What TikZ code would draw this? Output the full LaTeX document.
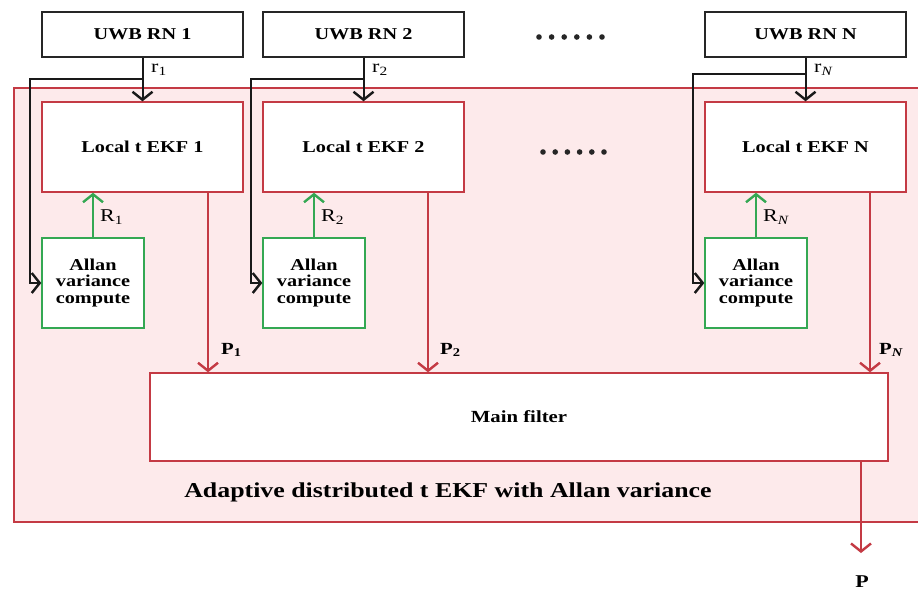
\documentclass[tikz,border=0pt]{standalone}
\usepackage{fontspec}
\setmainfont{Liberation Serif}[FakeStretch=1.22]
\usetikzlibrary{arrows.meta}
\definecolor{redb}{HTML}{C43A44}
\definecolor{pinkf}{HTML}{FDEAEB}
\definecolor{greenb}{HTML}{34A853}
\begin{document}
\begin{tikzpicture}[x=1pt,y=-1pt,
  tip/.style={-{Straight Barb[length=8pt,width=20pt,line width=2.4pt]}},
  uwb/.style={draw=black!85,line width=1.6pt,fill=white,minimum width=201pt,minimum height=45pt,inner sep=0pt,font=\bfseries\fontsize{16.6}{18}\selectfont},
  ekf/.style={draw=redb,line width=1.4pt,fill=white,minimum width=201pt,minimum height=90pt,inner sep=0pt,font=\bfseries\fontsize{16.6}{18}\selectfont},
  allan/.style={draw=greenb,line width=1.4pt,fill=white,minimum width=102pt,minimum height=90pt,inner sep=0pt,align=center,font=\bfseries\fontsize{16.6}{16.8}\selectfont},
  blk/.style={draw=black!90,line width=2pt,tip},
  grn/.style={draw=greenb,line width=2.2pt,tip},
  red/.style={draw=redb,line width=1.8pt,tip},
  lbl/.style={inner sep=0pt,anchor=west,font=\fontsize{18}{20}\selectfont},
  plbl/.style={inner sep=0pt,anchor=west,font=\bfseries\fontsize{17}{19}\selectfont}]
\useasboundingbox (0,0) rectangle (918,592);
\fill[white] (0,0) rectangle (918,592);
% outer container
\draw[redb,line width=1.4pt,fill=pinkf] (14,88) rectangle (935,522);
\node[inner sep=0pt,font=\bfseries\fontsize{21.2}{24}\selectfont] (cap) at (448,492) {Adaptive distributed t EKF with Allan variance};
% columns
\foreach \i/\dx/\by/\lab/\sub in {1/0/79/1/1,2/221/79/2/2,N/663/74/N/{\itshape N}}{
  \node[uwb] (u\i) at (142.5+\dx,34.5) {UWB RN \lab};
  \node[ekf] (l\i) at (142.5+\dx,147) {Local t EKF \lab};
  \node[allan] (a\i) at (93+\dx,283) {Allan\\variance\\compute};
  \coordinate (b\i) at (142.5+\dx,\by);
  \coordinate (c\i) at (30+\dx,\by);
  \coordinate (d\i) at (30+\dx,283);
  \draw[blk] (u\i.south) -- (l\i.north);
  \draw[blk] (b\i) -- (c\i) -- (d\i) -- (a\i.west);
  \draw[grn] (a\i.north) -- (l\i.south -| a\i.north);
  \node[lbl] (r\i) at (151+\dx,70) {r\textsubscript{\sub}};
  \node[lbl] (R\i) at (100+\dx,217) {R\textsubscript{\sub}};
}
% main filter
\node[draw=redb,line width=1.4pt,fill=white,minimum width=738pt,minimum height=88pt,inner sep=0pt,font=\bfseries\fontsize{17}{19}\selectfont] (main) at (519,417) {Main filter};
\foreach \i/\x in {1/208,2/428,N/870}{
  \coordinate (p\i) at (\x,192);
  \draw[red] (p\i) -- (p\i |- main.north);
}
\node[plbl] (P1) at (221,350) {P\textsubscript{1}};
\node[plbl] (P2) at (440,350) {P\textsubscript{2}};
\node[plbl] (PN) at (879,350) {P\textsubscript{\itshape N}};
% output
\coordinate (o) at (861,461);
\coordinate (oe) at (861,553);
\draw[red] (o) -- (oe);
\node[inner sep=0pt,font=\bfseries\fontsize{18}{20}\selectfont] (P) at (862,582) {P};
% dots
\foreach \k in {0,...,5}{
  \fill[black!85] (539+\k*12.6,37) circle (2.8pt);
  \fill[black!85] (543+\k*12.2,152) circle (2.8pt);
}
\end{tikzpicture}
\end{document}
